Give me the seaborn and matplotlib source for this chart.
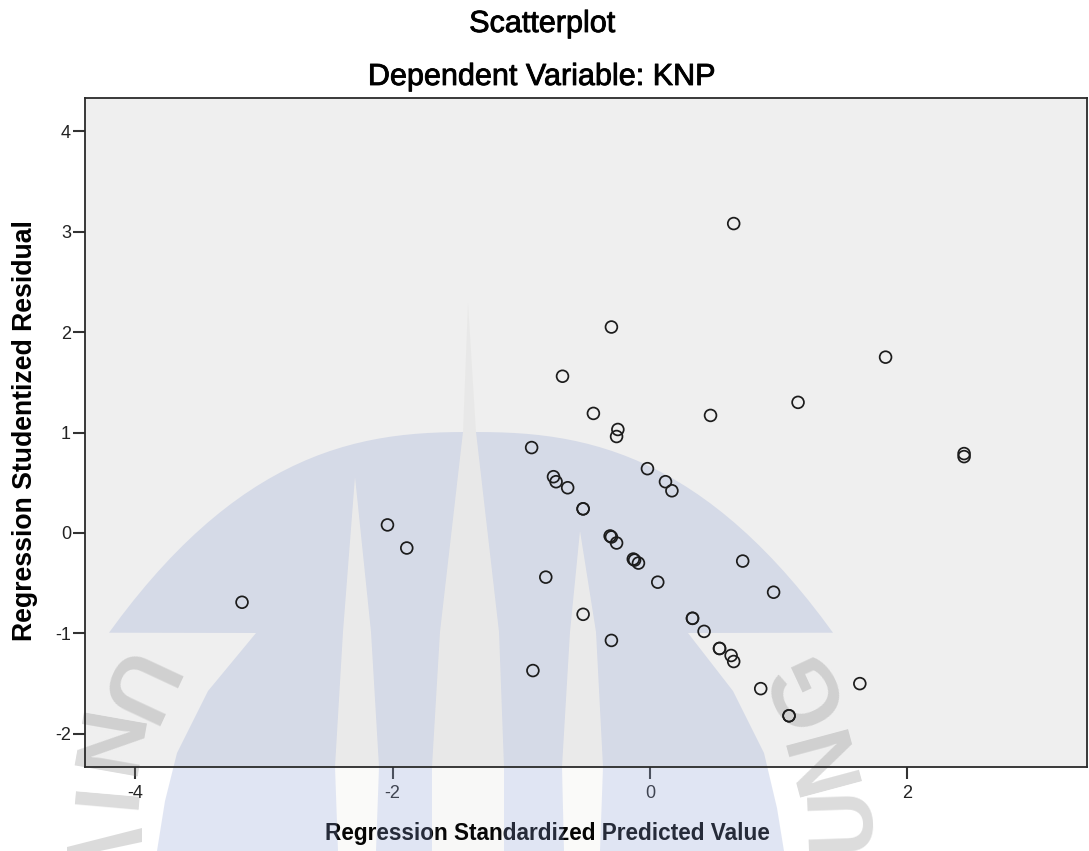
import numpy as np
import matplotlib
matplotlib.use("Agg")
import matplotlib.pyplot as plt
import matplotlib.patheffects as pe
from matplotlib.patches import PathPatch, Polygon
from matplotlib.path import Path
from matplotlib.transforms import Affine2D
import seaborn as sns

# values
predicted = [0.65, -0.30, 1.83, -0.68, 1.15, -0.44, 0.47, -0.25, -0.26, -0.92,
             2.44, 2.44, -0.02, -0.75, -0.73, -0.64, 0.12, 0.17, -0.52, -0.52,
             -2.04, -1.89, -0.31, -0.30, -0.26, -0.13, -0.12, -0.09, -0.81, 0.06,
             0.72, 0.96, -3.17, -0.52, -0.30, -0.91, 0.33, 0.33, 0.42, 0.54,
             0.54, 0.63, 0.65, 0.86, 1.63, 1.08, 1.08]
residual = [3.08, 2.05, 1.75, 1.56, 1.30, 1.19, 1.17, 1.03, 0.96, 0.85,
            0.79, 0.76, 0.64, 0.56, 0.51, 0.45, 0.51, 0.42, 0.24, 0.24,
            0.08, -0.15, -0.03, -0.04, -0.10, -0.26, -0.27, -0.30, -0.44, -0.49,
            -0.28, -0.59, -0.69, -0.81, -1.07, -1.37, -0.85, -0.85, -0.98, -1.15,
            -1.15, -1.22, -1.28, -1.55, -1.50, -1.82, -1.82]
xticks = [-4, -2, 0, 2]
yticks = [-2, -1, 0, 1, 2, 3, 4]

W, H = 1089, 851
sns.set_theme(style="white")
plt.rcParams['font.family'] = ['Liberation Sans', 'DejaVu Sans']
plt.rcParams['axes.unicode_minus'] = False

fig = plt.figure(figsize=(W / 100, H / 100), dpi=100)
ax = fig.add_axes([85 / W, 1 - 767 / H, (1087 - 85) / W, (767 - 98) / H])
ax.set_facecolor('#efefef')

# watermark is drawn in image pixels, y going down
px = Affine2D().scale(1, -1).translate(0, H)
blue = (144 / 255, 162 / 255, 211 / 255)


def mark(points, color, alpha):
    ax.add_patch(Polygon(points, closed=True, facecolor=color, edgecolor='none', alpha=alpha,
                         transform=px, clip_on=False, zorder=1))


dx = np.linspace(-362, 362, 60)
dome = list(zip(471 + dx, 432 + 8.05e-5 * np.abs(dx) ** 2.5))
lower_right = [(688, 633), (733, 691), (764, 753), (777, 808), (784, 851)]
lower_left = [(157, 851), (165, 801), (177, 753), (208, 691), (256, 633)]
outline = dome + lower_right + lower_left

center = [(463, 432), (476, 432), (499, 632), (504, 767), (504, 851), (432, 851), (432, 767), (440, 632)]
left = [(355, 477), (371, 632), (379, 767), (376, 851), (338, 851), (335, 767), (343, 632)]
right = [(580, 531), (596, 632), (603, 767), (600, 851), (564, 851), (562, 767), (570, 632)]

# holes run the other way round so they stay empty
verts, codes = [], []
for poly in [outline, center[::-1], left[::-1], right[::-1]]:
    verts += list(poly) + [poly[0]]
    codes += [Path.MOVETO] + [Path.LINETO] * (len(poly) - 1) + [Path.CLOSEPOLY]
ax.add_patch(PathPatch(Path(verts, codes), facecolor=blue, edgecolor='none', alpha=0.27,
                       transform=px, clip_on=False, zorder=1))
mark([(468, 302), (476, 432), (499, 632), (504, 767), (504, 851), (432, 851), (432, 767),
      (440, 632), (463, 432)], '#888878', 0.06)
mark(left, '#888878', 0.04)
mark(right, '#888878', 0.04)

letters = [('U', 127, 688, -115), ('N', 95, 748, -100), ('I', 92, 805, -95),
           ('G', 809, 686, 115), ('N', 825, 754, 105), ('U', 843, 818, 92)]
for ch, lx, ly, rot in letters:
    ax.text(lx, ly, ch, transform=px, rotation=rot, rotation_mode='anchor', ha='center', va='center',
            fontsize=66, fontweight='bold', color='#808080', alpha=0.28, clip_on=False, zorder=1)
# only a bit of the next letter is left at the bottom edge
mark([(67, 847), (142, 828), (142, 842), (100, 851), (67, 851)], '#808080', 0.28)

sns.scatterplot(x=predicted, y=residual, s=72, facecolor='none', edgecolor='#1c1c1c',
                linewidth=1.25, ax=ax, zorder=3, clip_on=False)

ax.set_xlim(-4.39, 3.395)
ax.set_ylim(-2.33, 4.33)
ax.set_xticks(xticks)
ax.set_yticks(yticks)
ax.tick_params(axis='both', length=8.6, width=1.5, color='#333333', labelsize=13,
               labelcolor='#222222', bottom=True, left=True)
ax.tick_params(axis='x', pad=4.5)
ax.tick_params(axis='y', pad=1.5)
for s in ax.spines.values():
    s.set_visible(True)
    s.set_color('#2a2a2a')
    s.set_linewidth(1.3)
    s.set_zorder(4)

stroke = [pe.withStroke(linewidth=0.6, foreground='black')]
fig.text(542 / W, 1 - 32 / H, 'Scatterplot', ha='center', va='baseline', fontsize=22,
         color='black', path_effects=stroke)
fig.text(541 / W, 1 - 85 / H, 'Dependent Variable: KNP', ha='center', va='baseline',
         fontsize=22, color='black', path_effects=stroke)
ax.set_xlabel('Regression Standardized Predicted Value', fontsize=16.3, fontweight='bold', color='black')
ax.xaxis.set_label_coords((547 - 85) / (1087 - 85), -(822 - 767) / (767 - 98))
ax.set_ylabel('Regression Studentized Residual', fontsize=19.2, fontweight='bold', color='black')
ax.yaxis.set_label_coords(-(85 - 38) / (1087 - 85), (767 - 431) / (767 - 98))

fig.savefig('out.png', dpi=100)
